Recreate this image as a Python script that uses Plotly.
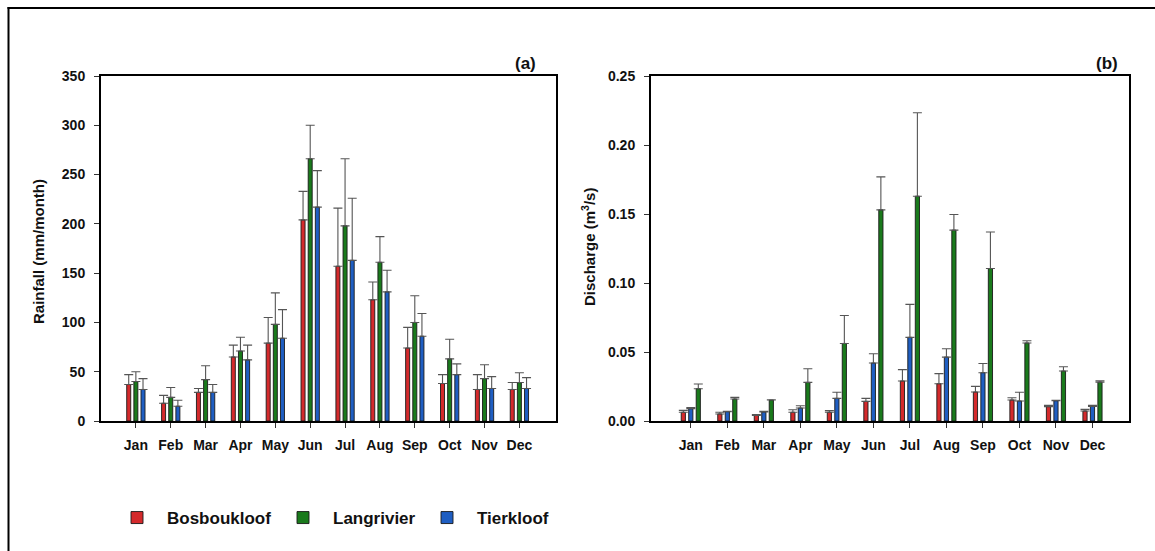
import plotly.graph_objects as go

# Monthly climatology at three catchments (mean with +1 SD error bars)
months = ["Jan", "Feb", "Mar", "Apr", "May", "Jun", "Jul", "Aug", "Sep", "Oct", "Nov", "Dec"]
sites = ["Bosboukloof", "Langrivier", "Tierkloof"]

# Rainfall (mm/month)
rain_bos = [37, 18, 29, 65, 79, 204, 157, 123, 74, 38, 32, 32]
rain_bos_sd = [10, 8, 4, 12, 26, 29, 59, 18, 21, 9, 15, 7]
rain_lan = [40, 24, 42, 71, 98, 266, 198, 161, 100, 63, 43, 39]
rain_lan_sd = [10, 10, 14, 14, 32, 34, 68, 26, 27, 20, 14, 10]
rain_tie = [32, 15, 29, 62, 84, 217, 163, 131, 86, 47, 33, 33]
rain_tie_sd = [11, 6, 8, 15, 29, 37, 63, 22, 23, 11, 12, 11]

# Discharge (m3/s)
q_bos = [0.0063, 0.0051, 0.0041, 0.0063, 0.0063, 0.0142, 0.0290, 0.0270, 0.0210, 0.0152, 0.0104, 0.0072]
q_bos_sd = [0.0014, 0.0012, 0.0005, 0.0019, 0.0012, 0.0022, 0.0082, 0.0073, 0.0041, 0.0017, 0.0009, 0.0012]
q_tie = [0.0089, 0.0068, 0.0065, 0.0094, 0.0164, 0.0420, 0.0606, 0.0463, 0.0350, 0.0145, 0.0147, 0.0106]
q_tie_sd = [0.0008, 0.0002, 0.0005, 0.0017, 0.0044, 0.0067, 0.0239, 0.0061, 0.0067, 0.0063, 0.0003, 0.0007]
q_lan = [0.0234, 0.0159, 0.0152, 0.0280, 0.0562, 0.1530, 0.1629, 0.1383, 0.1105, 0.0565, 0.0362, 0.0282]
q_lan_sd = [0.0034, 0.0012, 0.0002, 0.0099, 0.0203, 0.0239, 0.0605, 0.0113, 0.0265, 0.0017, 0.0031, 0.0010]

rain_ticks = [0, 50, 100, 150, 200, 250, 300, 350]
q_ticks = [0.00, 0.05, 0.10, 0.15, 0.20, 0.25]

COLORS = {"Bosboukloof": "#D42A2C", "Langrivier": "#1A7A1C", "Tierkloof": "#1F5EC2"}
FONT = "Liberation Sans, Arial, sans-serif"
W, H = 1155, 551

BAR_W = 0.115      # bar width in category units
STEP = 0.205       # centre-to-centre spacing inside a month group

fig = go.Figure()


def add_group(series, xaxis, yaxis, show_legend):
    idx = list(range(len(months)))
    for k, (name, vals, sd) in enumerate(series):
        fig.add_trace(go.Bar(
            x=idx, y=vals, name=name,
            xaxis=xaxis, yaxis=yaxis,
            width=BAR_W, offset=(k - 1) * STEP - BAR_W / 2,
            marker=dict(color=COLORS[name], line=dict(color="#1a1a1a", width=0.9)),
            error_y=dict(type="data", array=sd, arrayminus=[0] * len(sd), symmetric=False,
                         color="#555555", thickness=1.1, width=4.5),
            legendgroup=name, showlegend=show_legend,
            legendwidth={"Bosboukloof": 101, "Langrivier": 79, "Tierkloof": 90}[name],
        ))


add_group([("Bosboukloof", rain_bos, rain_bos_sd),
           ("Langrivier", rain_lan, rain_lan_sd),
           ("Tierkloof", rain_tie, rain_tie_sd)], "x", "y", True)
add_group([("Bosboukloof", q_bos, q_bos_sd),
           ("Tierkloof", q_tie, q_tie_sd),
           ("Langrivier", q_lan, q_lan_sd)], "x2", "y2", False)

axis_common = dict(showline=True, linecolor="black", linewidth=2, mirror=True,
                   ticks="outside", ticklen=5, tickwidth=1, tickcolor="#333",
                   showgrid=False, zeroline=False, automargin=False,
                   tickfont=dict(family=FONT, size=14, color="#111", weight="bold"))

xa = dict(axis_common, tickmode="array", tickvals=list(range(12)), ticktext=months,
          ticklabelstandoff=5)
ya = dict(axis_common, ticklabelstandoff=6)

ybot, ytop = 1 - 421 / H, 1 - 76 / H

fig.update_layout(
    width=W, height=H, margin=dict(l=0, r=0, t=0, b=0, pad=0, autoexpand=False),
    paper_bgcolor="white", plot_bgcolor="white",
    barmode="overlay",
    xaxis=dict(xa, domain=[101 / W, 556 / W], range=[-1.0, 12.05]),
    yaxis=dict(ya, domain=[ybot, ytop], range=[0, 350], tickvals=rain_ticks),
    xaxis2=dict(xa, domain=[651 / W, 1129 / W], range=[-1.09, 12.0], anchor="y2"),
    yaxis2=dict(ya, domain=[ybot, ytop], range=[0, 0.25], tickvals=q_ticks,
                tickformat=".2f", anchor="x2"),
    legend=dict(orientation="h", x=107 / W, xanchor="left", y=1 - 500 / H, yanchor="top",
                itemwidth=50, font=dict(family=FONT, size=17, color="#111", weight="bold"),
                bgcolor="rgba(0,0,0,0)", traceorder="normal"),
    showlegend=True,
)

ann_font = dict(family=FONT, size=15, color="#111", weight="bold")
fig.add_annotation(text="Rainfall (mm/month)", xref="paper", yref="paper",
                   x=39 / W, y=1 - 252 / H, textangle=-90, showarrow=False,
                   xanchor="center", yanchor="middle", font=ann_font)
fig.add_annotation(text="Discharge (m<sup>3</sup>/s)", xref="paper", yref="paper",
                   x=588 / W, y=1 - 247 / H, textangle=-90, showarrow=False,
                   xanchor="center", yanchor="middle", font=ann_font)
fig.add_annotation(text="(a)", xref="paper", yref="paper", x=538 / W, y=1 - 63 / H,
                   showarrow=False, xanchor="right", yanchor="middle",
                   font=dict(family=FONT, size=17, color="#111", weight="bold"))
fig.add_annotation(text="(b)", xref="paper", yref="paper", x=1120 / W, y=1 - 63 / H,
                   showarrow=False, xanchor="right", yanchor="middle",
                   font=dict(family=FONT, size=17, color="#111", weight="bold"))

# outer frame of the figure: top and left edges
frame_top = 1 - 8 / H
frame_left = 8.5 / W
fig.add_shape(type="line", xref="paper", yref="paper", x0=frame_left - 1 / W, x1=1,
              y0=frame_top, y1=frame_top, line=dict(color="black", width=2))
fig.add_shape(type="line", xref="paper", yref="paper", x0=frame_left, x1=frame_left,
              y0=0, y1=frame_top + 1 / H, line=dict(color="black", width=2))

fig.write_html("out.html")
